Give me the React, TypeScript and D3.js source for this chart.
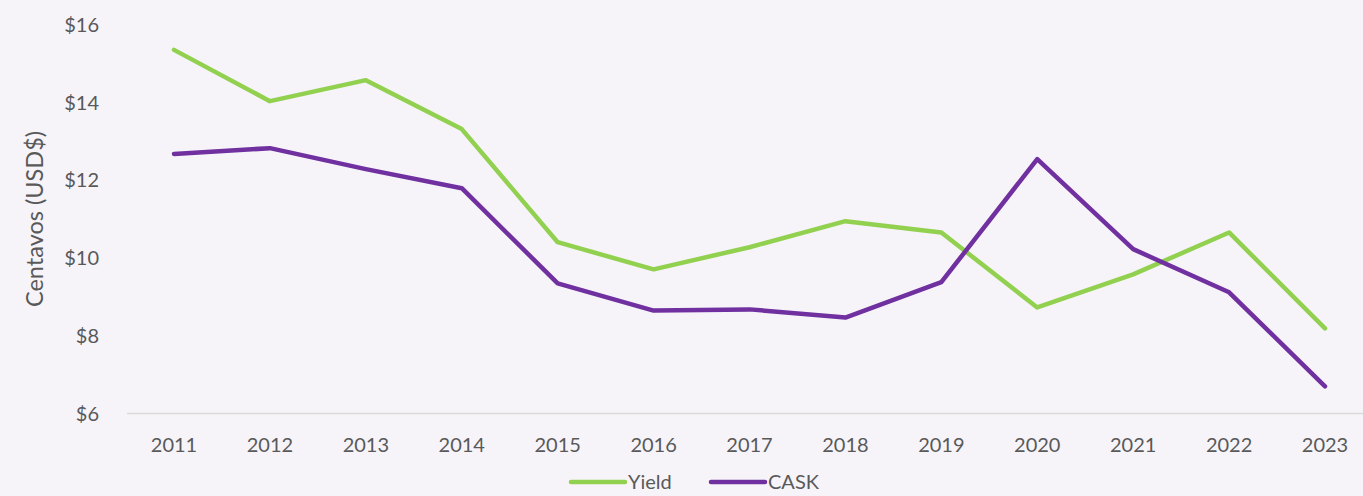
import React from "react";
import * as d3 from "d3";

const years = ["2011","2012","2013","2014","2015","2016","2017","2018","2019","2020","2021","2022","2023"];
const yieldValues = [15.36, 14.04, 14.58, 13.32, 10.41, 9.71, 10.28, 10.95, 10.66, 8.73, 9.58, 10.66, 8.19];
const caskValues = [12.68, 12.83, 12.29, 11.80, 9.35, 8.65, 8.68, 8.47, 9.38, 12.55, 10.23, 9.12, 6.70];
const yTicks = [6, 8, 10, 12, 14, 16];

const W = 1363, H = 496;
const FONT = "Lato, 'Open Sans', sans-serif";
const TEXT = "#595959";

export default function App() {
  const x = d3.scalePoint<string>().domain(years).range([174, 1325]);
  const y = d3.scaleLinear().domain([6, 16]).range([413.5, 25]);
  const line = d3.line<number>().x((_, i) => x(years[i])!).y(d => y(d));
  const series = [
    { name: "Yield", values: yieldValues, color: "#92d050" },
    { name: "CASK", values: caskValues, color: "#7030a0" },
  ];
  return (
    <svg width={W} height={H} style={{ position: "absolute", left: 0, top: 0 }}>
      <rect width={W} height={H} fill="#f6f4f9" />
      <line x1={127} x2={W} y1={y(6)} y2={y(6)} stroke="#d9d9d9" strokeWidth={1.5} />
      {yTicks.map(t => (
        <text key={t} x={99} y={y(t)} dy="0.35em" textAnchor="end" fontFamily={FONT} fontSize={20} fill={TEXT}>
          {"$" + t}
        </text>
      ))}
      {years.map(yr => (
        <text key={yr} x={x(yr)} y={445} dy="0.35em" textAnchor="middle" fontFamily={FONT} fontSize={20} fill={TEXT}>
          {yr}
        </text>
      ))}
      <text transform={`translate(35,219) rotate(-90)`} textAnchor="middle" dy="0.35em" fontFamily={FONT} fontSize={23.5} fill={TEXT}>
        Centavos (USD$)
      </text>
      {series.map(s => (
        <path key={s.name} d={line(s.values)!} fill="none" stroke={s.color} strokeWidth={4.5} strokeLinecap="round" strokeLinejoin="round" />
      ))}
      {series.map((s, i) => {
        const lx = 571 + i * 140;
        return (
          <g key={s.name}>
            <line x1={lx} x2={lx + 54} y1={482} y2={482} stroke={s.color} strokeWidth={4.5} strokeLinecap="round" />
            <text x={lx + 57} y={482} dy="0.35em" fontFamily={FONT} fontSize={20} fill={TEXT}>{s.name}</text>
          </g>
        );
      })}
    </svg>
  );
}
